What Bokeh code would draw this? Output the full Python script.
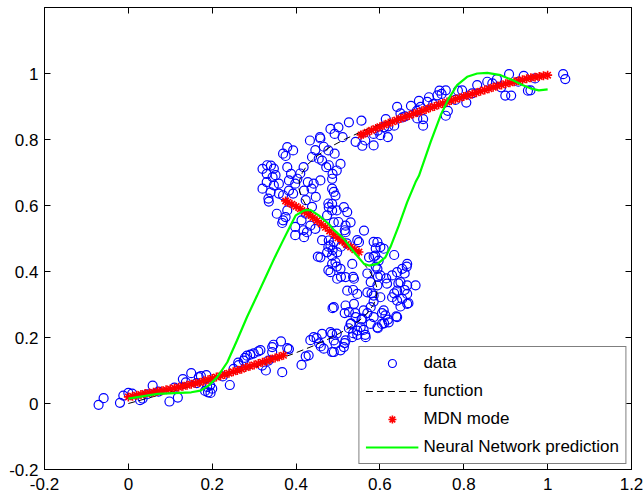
from bokeh.plotting import figure
from bokeh.models import (Range1d, LinearAxis, FixedTicker, CustomJSTickFormatter,
                          Legend, LegendItem)
from bokeh.embed import file_html
from bokeh.resources import INLINE

# ---- axis ticks --------------------------------------------------------
x_ticks = [-0.2, 0, 0.2, 0.4, 0.6, 0.8, 1, 1.2]
x_tick_labels = ["-0.2", "0", "0.2", "0.4", "0.6", "0.8", "1", "1.2"]
y_ticks = [-0.2, 0, 0.2, 0.4, 0.6, 0.8, 1]
y_tick_labels = ["-0.2", "0", "0.2", "0.4", "0.6", "0.8", "1"]

# ---- noisy samples (x, t) ---------------------------------------------
data_pts = [
    # lower-left branch
    (-0.071, -0.004), (-0.059, 0.016), (-0.020, 0.002), (-0.012, 0.024), (0.000, 0.032),
    (0.009, 0.030), (0.028, 0.010), (0.034, 0.015), (0.045, 0.028), (0.058, 0.054),
    (0.072, 0.036), (0.098, 0.006), (0.118, 0.018), (0.110, 0.048), (0.130, 0.074),
    (0.137, 0.064), (0.150, 0.092), (0.163, 0.062), (0.168, 0.080), (0.173, 0.083),
    (0.186, 0.086), (0.183, 0.038), (0.190, 0.034), (0.196, 0.032), (0.200, 0.045),
    (0.188, 0.050), (0.195, 0.055), (0.225, 0.082), (0.242, 0.056),
    # rising part
    (0.251, 0.105), (0.263, 0.116), (0.262, 0.124), (0.275, 0.130), (0.278, 0.138),
    (0.283, 0.145), (0.291, 0.148), (0.299, 0.152), (0.310, 0.158), (0.315, 0.162),
    (0.319, 0.115), (0.328, 0.100), (0.334, 0.130), (0.343, 0.171), (0.343, 0.156),
    (0.346, 0.178), (0.364, 0.188), (0.367, 0.095), (0.379, 0.168), (0.383, 0.165),
    (0.413, 0.117), (0.423, 0.143), (0.430, 0.146), (0.434, 0.192), (0.442, 0.201),
    (0.449, 0.198), (0.455, 0.182), (0.459, 0.173), (0.462, 0.211), (0.466, 0.166),
    (0.482, 0.216), (0.486, 0.156), (0.490, 0.191), (0.497, 0.212), (0.494, 0.181),
    (0.490, 0.156), (0.506, 0.161), (0.514, 0.171), (0.516, 0.183), (0.518, 0.191),
    # right-hand lower cluster
    (0.486, 0.211), (0.526, 0.228), (0.531, 0.243), (0.536, 0.213), (0.534, 0.201),
    (0.541, 0.274), (0.546, 0.208), (0.546, 0.221), (0.554, 0.231), (0.556, 0.254),
    (0.558, 0.257), (0.561, 0.223), (0.565, 0.208), (0.566, 0.201), (0.570, 0.274),
    (0.578, 0.241), (0.585, 0.262), (0.594, 0.231), (0.595, 0.228), (0.605, 0.241),
    (0.610, 0.243), (0.605, 0.274), (0.613, 0.267), (0.619, 0.254), (0.621, 0.246),
    (0.639, 0.264), (0.641, 0.262), (0.609, 0.282), (0.490, 0.292), (0.487, 0.289),
    (0.518, 0.297), (0.516, 0.274), (0.526, 0.277), (0.530, 0.241), (0.542, 0.262),
    (0.538, 0.302), (0.546, 0.332), (0.536, 0.344), (0.522, 0.342), (0.561, 0.282),
    (0.578, 0.292), (0.585, 0.309), (0.585, 0.327), (0.580, 0.334), (0.601, 0.322),
    (0.629, 0.322), (0.641, 0.312), (0.649, 0.294), (0.653, 0.317), (0.665, 0.302),
    (0.668, 0.304), (0.665, 0.332), (0.634, 0.334), (0.659, 0.344), (0.641, 0.342),
    (0.665, 0.358), (0.685, 0.358), (0.649, 0.368), (0.644, 0.364), (0.617, 0.363),
    (0.594, 0.358), (0.578, 0.368), (0.570, 0.337), (0.629, 0.388), (0.641, 0.398),
    (0.653, 0.408), (0.659, 0.394), (0.665, 0.423), (0.664, 0.415), (0.615, 0.379),
    (0.595, 0.384), (0.601, 0.388), (0.594, 0.408), (0.570, 0.394), (0.590, 0.415),
    (0.597, 0.433), (0.634, 0.450), (0.589, 0.448), (0.574, 0.443), (0.585, 0.445),
    (0.590, 0.470), (0.601, 0.474), (0.609, 0.469), (0.594, 0.489), (0.585, 0.490),
    (0.562, 0.524), (0.550, 0.489), (0.546, 0.495), (0.538, 0.378), (0.518, 0.383),
    (0.507, 0.384), (0.536, 0.384), (0.498, 0.378), (0.506, 0.408), (0.494, 0.428),
    (0.498, 0.458), (0.534, 0.423), (0.497, 0.415), (0.477, 0.404), (0.482, 0.398),
    (0.486, 0.423), (0.458, 0.443), (0.452, 0.445), (0.486, 0.448), (0.474, 0.458),
    (0.487, 0.465), (0.482, 0.479), (0.478, 0.494), (0.490, 0.489), (0.462, 0.495),
    (0.477, 0.475), (0.507, 0.475), (0.521, 0.485), (0.518, 0.519), (0.516, 0.525),
    (0.490, 0.549), (0.501, 0.550), (0.518, 0.539), (0.530, 0.549),
    # middle cluster
    (0.320, 0.711), (0.331, 0.722), (0.340, 0.721), (0.330, 0.696), (0.347, 0.712),
    (0.351, 0.692), (0.344, 0.686), (0.320, 0.651), (0.330, 0.671), (0.347, 0.661),
    (0.359, 0.666), (0.339, 0.640), (0.359, 0.636), (0.334, 0.621), (0.335, 0.612),
    (0.369, 0.631), (0.383, 0.645), (0.354, 0.575), (0.369, 0.555), (0.367, 0.547),
    (0.375, 0.565), (0.379, 0.585), (0.379, 0.716), (0.383, 0.676), (0.388, 0.696),
    (0.410, 0.697), (0.398, 0.666), (0.403, 0.681), (0.393, 0.636), (0.398, 0.535),
    (0.398, 0.510), (0.413, 0.555), (0.418, 0.525), (0.419, 0.504), (0.426, 0.519),
    (0.434, 0.539), (0.446, 0.529), (0.423, 0.616), (0.423, 0.575), (0.438, 0.596),
    (0.419, 0.645), (0.428, 0.671), (0.418, 0.716), (0.437, 0.651), (0.442, 0.666),
    (0.458, 0.676), (0.447, 0.626), (0.369, 0.757), (0.375, 0.750), (0.379, 0.777),
    (0.393, 0.767), (0.433, 0.797), (0.458, 0.803), (0.438, 0.747), (0.454, 0.742),
    (0.446, 0.768), (0.466, 0.778), (0.457, 0.807), (0.462, 0.736), (0.472, 0.716),
    (0.478, 0.722), (0.487, 0.696), (0.497, 0.706), (0.492, 0.757), (0.477, 0.767),
    (0.506, 0.726), (0.482, 0.832), (0.501, 0.837), (0.492, 0.817), (0.511, 0.807),
    (0.526, 0.852), (0.486, 0.681), (0.486, 0.651), (0.490, 0.641), (0.494, 0.630),
    (0.486, 0.605), (0.477, 0.606), (0.478, 0.595), (0.486, 0.585), (0.497, 0.585),
    (0.514, 0.595), (0.522, 0.580), (0.474, 0.570), (0.542, 0.793), (0.558, 0.781),
    # upper branch
    (0.556, 0.857), (0.565, 0.797), (0.585, 0.782), (0.585, 0.817), (0.595, 0.827),
    (0.601, 0.813), (0.610, 0.837), (0.619, 0.807), (0.614, 0.862), (0.620, 0.840),
    (0.634, 0.842), (0.641, 0.899), (0.649, 0.879), (0.654, 0.867), (0.660, 0.870),
    (0.674, 0.902), (0.688, 0.887), (0.689, 0.864), (0.693, 0.917), (0.697, 0.899),
    (0.703, 0.862), (0.703, 0.842), (0.713, 0.914), (0.717, 0.928), (0.727, 0.907),
    (0.737, 0.934), (0.742, 0.948), (0.747, 0.938), (0.757, 0.949), (0.757, 0.872),
    (0.762, 0.887), (0.780, 0.920), (0.786, 0.948), (0.796, 0.949), (0.806, 0.912),
    (0.820, 0.940), (0.832, 0.965), (0.856, 0.975), (0.868, 0.970), (0.879, 0.983),
    (0.889, 0.958), (0.899, 0.933), (0.908, 0.998), (0.913, 0.933), (0.930, 0.975),
    (0.943, 0.993), (0.953, 0.948), (0.959, 0.949), (0.970, 0.985), (1.037, 0.998),
    (1.042, 0.983),
]
data_x = [pt[0] for pt in data_pts]
data_y = [pt[1] for pt in data_pts]

# ---- underlying function, sampled along t -----------------------------
func_t = [0.0, 0.025, 0.05, 0.075, 0.1, 0.125, 0.15, 0.175, 0.2, 0.225, 0.25, 0.275,
          0.3, 0.325, 0.35, 0.375, 0.4, 0.425, 0.45, 0.475, 0.5, 0.525, 0.55, 0.575,
          0.6, 0.625, 0.65, 0.675, 0.7, 0.725, 0.75, 0.775, 0.8, 0.825, 0.85, 0.875,
          0.9, 0.925, 0.95, 0.975, 1.0]
func_x = [0.0, 0.072, 0.143, 0.211, 0.276, 0.337, 0.392, 0.442, 0.485, 0.521, 0.55, 0.571,
          0.585, 0.592, 0.593, 0.587, 0.576, 0.561, 0.543, 0.522, 0.5, 0.478, 0.457, 0.439,
          0.424, 0.413, 0.407, 0.408, 0.415, 0.428, 0.45, 0.478, 0.515, 0.558, 0.607, 0.663,
          0.724, 0.789, 0.857, 0.928, 1.0]

# ---- MDN mode: three branches -----------------------------------------
mdn_low_x = [0.00, 0.01, 0.02, 0.03, 0.04, 0.05, 0.06, 0.07, 0.08, 0.09, 0.10, 0.11,
             0.12, 0.13, 0.14, 0.15, 0.16, 0.17, 0.18, 0.19, 0.20, 0.21, 0.22, 0.23,
             0.24, 0.25, 0.26, 0.27, 0.28, 0.29, 0.30, 0.31, 0.32, 0.33, 0.34, 0.35,
             0.36, 0.37]
mdn_low_y = [0.020, 0.022, 0.025, 0.027, 0.030, 0.032, 0.034, 0.037, 0.039, 0.042, 0.044,
             0.047, 0.049, 0.052, 0.055, 0.058, 0.061, 0.064, 0.068, 0.072, 0.076, 0.080,
             0.084, 0.088, 0.092, 0.096, 0.100, 0.104, 0.109, 0.113, 0.117, 0.121, 0.125,
             0.129, 0.134, 0.138, 0.142, 0.146]
mdn_mid_x = [0.375, 0.38, 0.39, 0.40, 0.41, 0.42, 0.43, 0.44, 0.45, 0.46, 0.47, 0.48,
             0.49, 0.50, 0.51, 0.52, 0.53, 0.54, 0.55]
mdn_mid_y = [0.614, 0.610, 0.604, 0.597, 0.590, 0.582, 0.573, 0.564, 0.554, 0.544, 0.534,
             0.523, 0.512, 0.502, 0.492, 0.482, 0.474, 0.466, 0.459]
mdn_up_x = [0.555, 0.56, 0.57, 0.58, 0.59, 0.60, 0.61, 0.62, 0.63, 0.64, 0.65, 0.66, 0.67,
            0.68, 0.69, 0.70, 0.71, 0.72, 0.73, 0.74, 0.75, 0.76, 0.77, 0.78, 0.79, 0.80,
            0.81, 0.82, 0.83, 0.84, 0.85, 0.86, 0.87, 0.88, 0.89, 0.90, 0.91, 0.92, 0.93,
            0.94, 0.95, 0.96, 0.97, 0.98, 0.99, 1.00]
mdn_up_y = [0.814, 0.816, 0.822, 0.828, 0.833, 0.839, 0.844, 0.849, 0.854, 0.859, 0.864,
            0.868, 0.873, 0.878, 0.882, 0.887, 0.891, 0.896, 0.900, 0.905, 0.909, 0.914,
            0.918, 0.922, 0.926, 0.930, 0.934, 0.938, 0.942, 0.946, 0.950, 0.954, 0.958,
            0.962, 0.965, 0.969, 0.972, 0.975, 0.978, 0.981, 0.984, 0.987, 0.989, 0.991,
            0.993, 0.995]
mdn_x = mdn_low_x + mdn_mid_x + mdn_up_x
mdn_y = mdn_low_y + mdn_mid_y + mdn_up_y

# ---- plain network prediction ------------------------------------------
nn_x = [0.0, 0.07, 0.15, 0.172, 0.192, 0.212, 0.236, 0.259, 0.283, 0.307, 0.33, 0.35,
        0.367, 0.385, 0.399, 0.419, 0.434, 0.454, 0.478, 0.49, 0.514, 0.538, 0.562, 0.574,
        0.594, 0.613, 0.625, 0.645, 0.665, 0.685, 0.693, 0.721, 0.745, 0.764, 0.784, 0.808,
        0.832, 0.856, 0.888, 0.916, 0.94, 0.959, 0.979, 1.0]
nn_y = [0.015, 0.029, 0.034, 0.039, 0.055, 0.080, 0.125, 0.191, 0.262, 0.327, 0.39, 0.445,
        0.489, 0.535, 0.570, 0.585, 0.587, 0.570, 0.544, 0.526, 0.499, 0.459, 0.423, 0.418,
        0.423, 0.443, 0.474, 0.539, 0.61, 0.671, 0.690, 0.793, 0.874, 0.924, 0.965, 0.99,
        1.0, 1.002, 0.995, 0.98, 0.965, 0.955, 0.949, 0.952]

FONT = "Liberation Sans"
FONT_SIZE = "17px"

p = figure(width=644, height=498,
           x_range=Range1d(-0.2, 1.2), y_range=Range1d(-0.2, 1.2),
           output_backend="svg", toolbar_location=None,
           min_border_left=44, min_border_right=13,
           min_border_top=7, min_border_bottom=29,
           background_fill_color="white", border_fill_color="white")
p.grid.visible = False
p.outline_line_color = "black"
p.outline_line_width = 1

fmt_code = """
for (let i = 0; i < vals.length; i++) {
    if (Math.abs(vals[i] - tick) < 1e-9) return labs[i];
}
return "";
"""


def style_axis(ax, ticks, labels, show_labels=True):
    ax.ticker = FixedTicker(ticks=ticks)
    ax.formatter = CustomJSTickFormatter(
        args=dict(vals=ticks, labs=labels if show_labels else [""] * len(labels)),
        code=fmt_code)
    ax.major_tick_in = 6
    ax.major_tick_out = 0
    ax.major_tick_line_color = "black"
    ax.minor_tick_line_color = None
    ax.axis_line_color = "black"
    ax.major_label_text_font = FONT
    ax.major_label_text_color = "black"
    if show_labels:
        ax.major_label_text_font_size = FONT_SIZE
    else:
        ax.major_label_text_font_size = "0px"
        ax.major_label_standoff = 0


style_axis(p.xaxis[0], x_ticks, x_tick_labels)
p.xaxis[0].major_label_standoff = 8
style_axis(p.yaxis[0], y_ticks, y_tick_labels)
p.yaxis[0].major_label_standoff = 6

top_axis = LinearAxis()
style_axis(top_axis, x_ticks, x_tick_labels, show_labels=False)
p.add_layout(top_axis, "above")
right_axis = LinearAxis()
style_axis(right_axis, y_ticks, y_tick_labels, show_labels=False)
p.add_layout(right_axis, "right")

r_data = p.scatter(data_x, data_y, marker="circle", size=9, fill_color=None,
                   line_color="#0000ff", line_width=1.2)
r_func = p.line(func_x, func_t, line_color="black", line_dash="7 4", line_width=1)
r_mdn = p.scatter(mdn_x, mdn_y, marker="asterisk", size=9,
                  line_color="#ff0000", line_width=1.6)
r_nn = p.line(nn_x, nn_y, line_color="#00ff00", line_width=2.2)

legend = Legend(items=[
    LegendItem(label="data", renderers=[r_data]),
    LegendItem(label="function", renderers=[r_func]),
    LegendItem(label="MDN mode", renderers=[r_mdn]),
    LegendItem(label="Neural Network prediction", renderers=[r_nn]),
], location="bottom_right")
legend.label_text_font = FONT
legend.label_text_font_size = FONT_SIZE
legend.label_text_color = "black"
legend.glyph_width = 53
legend.glyph_height = 20
legend.label_height = 20
legend.label_standoff = 5
legend.padding = 6
legend.spacing = 8
legend.margin = 5
legend.border_line_color = "black"
legend.border_line_width = 1
legend.background_fill_color = "white"
legend.background_fill_alpha = 1.0
p.add_layout(legend)

open("out.html", "w").write(file_html(p, INLINE))
